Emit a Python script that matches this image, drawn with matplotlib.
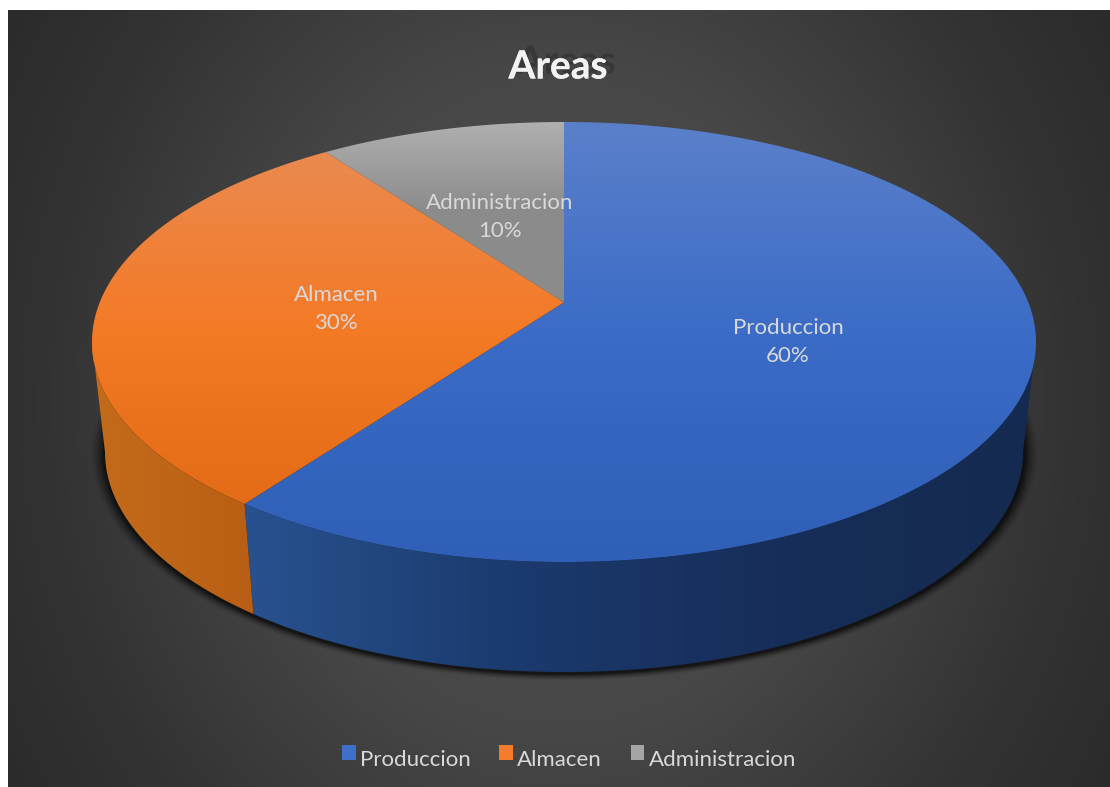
import numpy as np
import matplotlib
matplotlib.use("Agg")
import matplotlib.pyplot as plt
from matplotlib.colors import LinearSegmentedColormap
from matplotlib.patches import Patch, Polygon
import matplotlib.patheffects as pe

areas = ['Produccion', 'Almacen', 'Administracion']
shares = [60, 30, 10]
chart_title = 'Areas'

legend_colors = ['#3f6fc8', '#f47c2a', '#a5a5a5']
top_stops = [['#5b80cb', '#3a6bc6', '#2f5fb6'],
             ['#ea8a50', '#f47a26', '#e46c16'],
             ['#b0b0b0', '#8b8b8b', '#8b8b8b']]
wall_stops = [['#28528f', '#1b3a6e', '#162e59', '#152a50'],
              ['#c46b1a', '#b85f15'],
              ['#777777', '#777777']]
label_pos = [(788, 342), (336, 309), (500, 217)]

plt.rcParams['font.family'] = ['Lato', 'DejaVu Sans']

fig = plt.figure(figsize=(11.1, 7.87), dpi=100, facecolor='white')
ax = fig.add_axes([0, 0, 1, 1])

# top face and bottom rim, in pixels of the picture
cx, cy, rx, ry = 564, 342, 472, 220
bx, by, brx, bry = 564, 452, 459, 220
k = 0.18  # perspective, moves the meeting point of the slices up
# part of the rim that faces the viewer
front = (np.arccos(-k) / (2 * np.pi), 1 - np.arccos(-k) / (2 * np.pi))


def project(frac):
    a = 2 * np.pi * np.asarray(frac)
    u, v = np.sin(a), np.cos(a)
    w = 1 + k * v
    return u * np.sqrt(1 - k * k) / w, (v + k) / w


def gradient(poly, stops, vertical=True, z=3):
    cmap = LinearSegmentedColormap.from_list('g', stops)
    x0, y0 = poly.min(axis=0)
    x1, y1 = poly.max(axis=0)
    g = np.linspace(0, 1, 256)
    g = g[:, None] if vertical else g[None, :]
    im = ax.imshow(g, cmap=cmap, extent=[x0, x1, y1, y0], aspect='auto', zorder=z, vmin=0, vmax=1)
    patch = Polygon(poly, closed=True, transform=ax.transData, fc='none', ec='none')
    ax.add_patch(patch)
    im.set_clip_path(patch)


# background with radial light
yy, xx = np.mgrid[10:787, 8:1110]
d = np.sqrt(((xx - 559) / 600) ** 2 + ((yy - 400) / 700) ** 2)
bg_cmap = LinearSegmentedColormap.from_list('bg', [(0, '#555555'), (0.45, '#464646'), (0.77, '#333333'), (1, '#2a2a2a')])
ax.imshow(d, cmap=bg_cmap, extent=[8, 1110, 787, 10], aspect='auto', zorder=0, vmin=0, vmax=1.1)

# soft shadow under the pie
yy, xx = np.mgrid[300:700, 70:1060]
r = np.sqrt(((xx - 564) / 465) ** 2 + ((yy - 453) / 223) ** 2)
alpha = np.clip((1.02 - r) / 0.03, 0, 1) ** 1.5 * 0.7
shadow = np.zeros(r.shape + (4,))
shadow[..., 3] = alpha
ax.imshow(shadow, extent=[70, 1060, 700, 300], aspect='auto', zorder=1)

edges = np.concatenate([[0], np.cumsum(shares)]) / sum(shares)

# walls, only the slices that reach the front
for i in range(3):
    lo, hi = max(edges[i], front[0]), min(edges[i + 1], front[1])
    if lo >= hi:
        continue
    t = np.linspace(lo, hi, 300)
    u, v = project(t)
    top = np.column_stack([cx + rx * u, cy - ry * v])
    bottom = np.column_stack([bx + brx * u, by - bry * v])
    gradient(np.vstack([top, bottom[::-1]]), wall_stops[i], vertical=False, z=2)

# top faces
for i in range(3):
    t = np.linspace(edges[i], edges[i + 1], 300)
    u, v = project(t)
    apex = [cx, cy - ry * k]
    poly = np.vstack([[apex], np.column_stack([cx + rx * u, cy - ry * v])])
    gradient(poly, top_stops[i], vertical=True, z=3)

for name, share, pos in zip(areas, shares, label_pos):
    ax.text(pos[0], pos[1], '%s\n%d%%' % (name, share), color='#d9d9d9', fontsize=16,
            ha='center', va='center', linespacing=1.55, zorder=5)

ax.text(558, 67, chart_title, color='#f2f2f2', fontsize=28, fontweight='bold', ha='center', va='center', zorder=5,
        path_effects=[pe.withSimplePatchShadow(offset=(6, 3.5), shadow_rgbFace='#222222', alpha=0.4), pe.Normal()])

handles = [Patch(fc=c, ec='none', label=a) for c, a in zip(legend_colors, areas)]
leg = ax.legend(handles=handles, ncol=3, loc='center', bbox_to_anchor=(569 / 1110, 1 - 760 / 787), frameon=False,
                fontsize=16, labelcolor='#d9d9d9', handlelength=0.62, handleheight=0.62, handletextpad=0.2,
                columnspacing=1.28)
for h in leg.legend_handles:
    h.set_y(h.get_y() + 4)
leg.set_zorder(6)

ax.set_xlim(0, 1110)
ax.set_ylim(787, 0)
ax.axis('off')
fig.savefig('out.png', dpi=100, facecolor='white')
